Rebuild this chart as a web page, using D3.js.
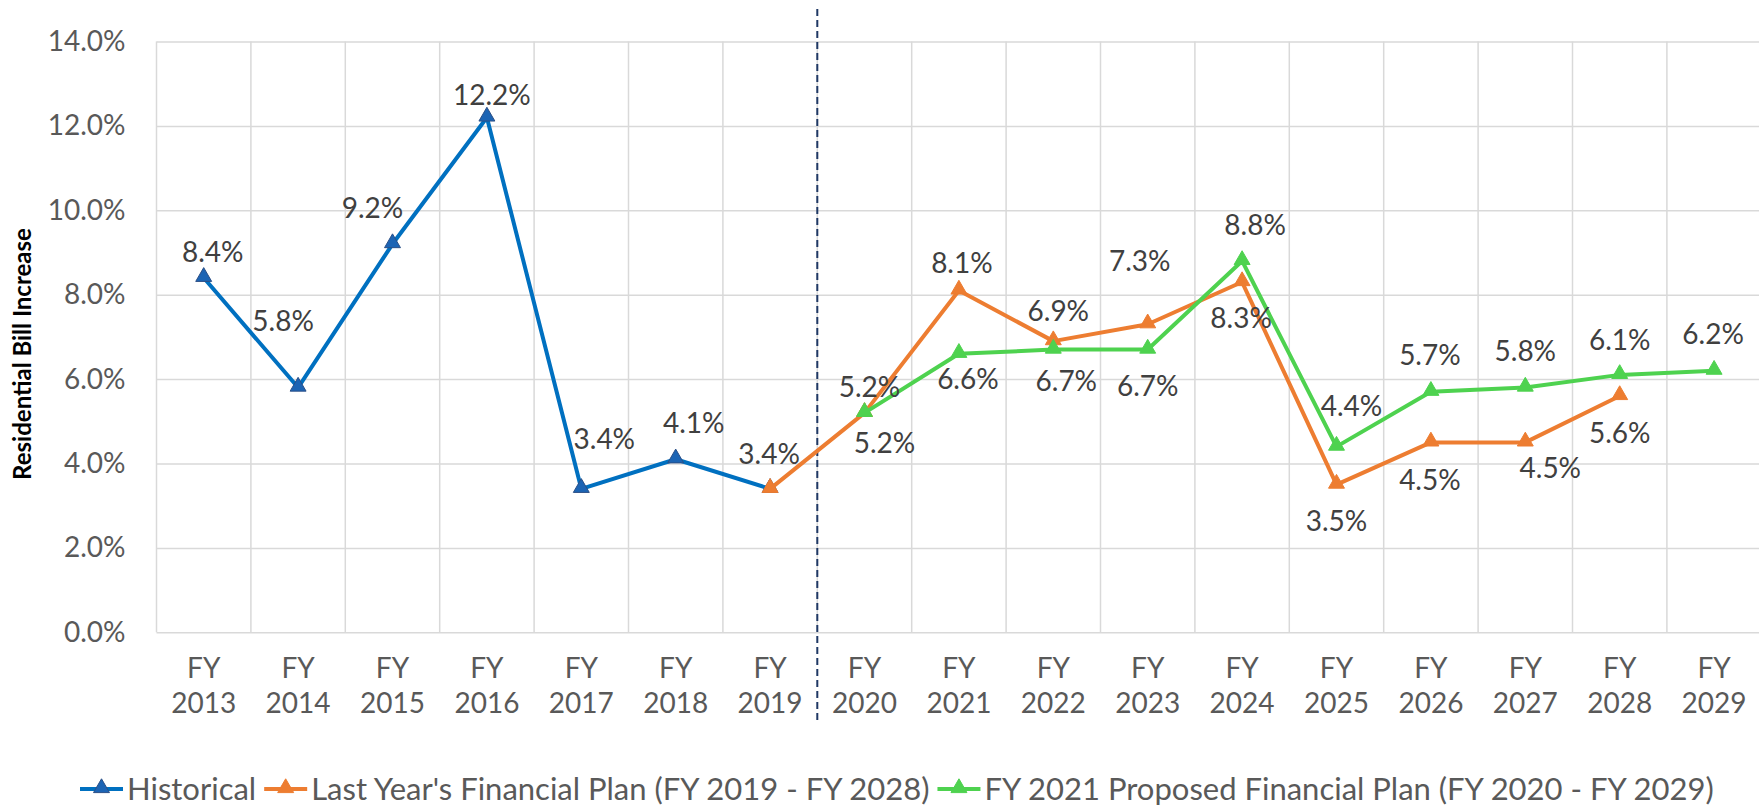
<!DOCTYPE html>
<html>
<head>
<meta charset="utf-8">
<script src="https://cdn.jsdelivr.net/npm/d3@7"></script>
<style>
  body { margin: 0; background: #fff; }
  text { font-family: Lato, "Open Sans", sans-serif; }
</style>
</head>
<body>
<script>
// categories along the x axis
const years = ["FY 2013", "FY 2014", "FY 2015", "FY 2016", "FY 2017", "FY 2018", "FY 2019",
  "FY 2020", "FY 2021", "FY 2022", "FY 2023", "FY 2024", "FY 2025", "FY 2026", "FY 2027",
  "FY 2028", "FY 2029"];

// the three series
const historicalYears = ["FY 2013", "FY 2014", "FY 2015", "FY 2016", "FY 2017", "FY 2018", "FY 2019"];
const historical = [8.4, 5.8, 9.2, 12.2, 3.4, 4.1, 3.4];

const lastYearYears = ["FY 2019", "FY 2020", "FY 2021", "FY 2022", "FY 2023", "FY 2024", "FY 2025",
  "FY 2026", "FY 2027", "FY 2028"];
const lastYear = [3.4, 5.2, 8.1, 6.9, 7.3, 8.3, 3.5, 4.5, 4.5, 5.6];

const proposedYears = ["FY 2020", "FY 2021", "FY 2022", "FY 2023", "FY 2024", "FY 2025", "FY 2026",
  "FY 2027", "FY 2028", "FY 2029"];
const proposed = [5.2, 6.6, 6.7, 6.7, 8.8, 4.4, 5.7, 5.8, 6.1, 6.2];

const yTicks = [0, 2, 4, 6, 8, 10, 12, 14];

const legendNames = ["Historical", "Last Year's Financial Plan (FY 2019 - FY 2028)",
  "FY 2021 Proposed Financial Plan (FY 2020 - FY 2029)"];

// where each data label sits relative to its marker (label layout, not data)
const histNudge = [[9, -26], [-15, -66], [-20, -36], [5, -22], [23, -50], [18, -36], [-1, -35]];
const lastNudge = [null, [20, 30], [3, -27], [5, -30], [-8, -63], [-1, 36], [0, 37], [-1, 38], [25, 26], [0, 37]];
const propNudge = [[5, -26], [9, 25], [13, 32], [0, 37], [13, -36], [15, -40], [-1, -37], [0, -36], [0, -35], [-1, -36]];

const W = 1759, H = 808;
const plotLeft = 156.5, plotTop = 41.5, plotBottom = 632.3;

const svg = d3.select("body").append("svg")
    .attr("width", W)
    .attr("height", H);

const x = d3.scaleBand()
    .domain(years)
    .range([plotLeft, plotLeft + 94.4 * years.length])
    .padding(0);

const y = d3.scaleLinear()
    .domain([0, 14])
    .range([plotBottom, plotTop]);

const plotW = x.range()[1] - plotLeft;

// y gridlines + tick labels
const gy = svg.append("g")
    .attr("transform", `translate(${plotLeft},0)`)
    .call(d3.axisLeft(y).tickValues(yTicks).tickSize(-plotW).tickPadding(31)
      .tickFormat(d => d.toFixed(1) + "%"));
gy.select(".domain").remove();
gy.selectAll(".tick line").attr("stroke", "#d9d9d9").attr("stroke-width", 1.5);
gy.selectAll(".tick text")
    .attr("fill", "#595959")
    .style("font-size", "28px");

// vertical gridlines on the category edges
const edges = years.map(d => x(d)).concat([x.range()[1]]);
svg.append("g").selectAll("line")
    .data(edges)
    .join("line")
    .attr("x1", d => d).attr("x2", d => d)
    .attr("y1", y(0)).attr("y2", y(14))
    .attr("stroke", "#d9d9d9")
    .attr("stroke-width", 1.5);

// x labels, two lines each
const gx = svg.append("g")
    .attr("transform", `translate(0,${plotBottom})`)
    .call(d3.axisBottom(x).tickSize(0).tickPadding(0));
gx.select(".domain").remove();
gx.selectAll(".tick text").each(function(d) {
  const t = d3.select(this).text(null)
      .attr("fill", "#595959")
      .style("font-size", "28px")
      .attr("y", 0).attr("dy", null);
  const parts = d.split(" ");
  t.append("tspan").attr("x", 0).attr("y", 46).text(parts[0]);
  t.append("tspan").attr("x", 0).attr("y", 81).text(parts[1]);
});

// dashed divider between history and plan
svg.append("line")
    .attr("x1", x("FY 2020")).attr("x2", x("FY 2020"))
    .attr("y1", 9).attr("y2", 720)
    .attr("stroke", "#1f3864")
    .attr("stroke-width", 2)
    .attr("stroke-dasharray", "7,4");

// y axis title
svg.append("text")
    .attr("transform", "translate(23,354) rotate(-90)")
    .attr("text-anchor", "middle")
    .attr("dy", "0.35em")
    .style("font-size", "24px")
    .style("font-weight", "700")
    .attr("fill", "#000")
    .text("Residential Bill Increase");

const series = [
  { cats: historicalYears, vals: historical, color: "#0070c0", mark: "#1c64b4", edge: "#2b4f86", nudge: histNudge },
  { cats: lastYearYears, vals: lastYear, color: "#ed7d31", mark: "#ed7d31", edge: "#ed7d31", nudge: lastNudge },
  { cats: proposedYears, vals: proposed, color: "#4ed24f", mark: "#4ed24f", edge: "#4ed24f", nudge: propNudge }
];

const line = d3.line()
    .x(d => x(d[0]) + x.bandwidth() / 2)
    .y(d => y(d[1]));

const tri = d3.symbol(d3.symbolTriangle, 110);

series.forEach(s => {
  const pts = s.cats.map((c, i) => [c, s.vals[i]]);
  svg.append("path")
      .datum(pts)
      .attr("d", line)
      .attr("fill", "none")
      .attr("stroke", s.color)
      .attr("stroke-width", 4)
      .attr("stroke-linejoin", "round");
  svg.append("g").selectAll("path")
      .data(pts)
      .join("path")
      .attr("d", tri)
      .attr("transform", d => `translate(${x(d[0]) + x.bandwidth() / 2},${y(d[1]) - 1})`)
      .attr("fill", s.mark)
      .attr("stroke", s.edge)
      .attr("stroke-width", 1);
});

// data labels
series.forEach(s => {
  s.cats.forEach((c, i) => {
    const n = s.nudge[i];
    if (!n) return;
    svg.append("text")
        .attr("x", x(c) + x.bandwidth() / 2 + n[0])
        .attr("y", y(s.vals[i]) + n[1])
        .attr("dy", "0.35em")
        .attr("text-anchor", "middle")
        .attr("fill", "#404040")
        .style("font-size", "28px")
        .text(s.vals[i].toFixed(1) + "%");
  });
});

// legend
const lg = svg.append("g").attr("transform", "translate(80,789)");
let cx = 0;
series.forEach((s, i) => {
  const g = lg.append("g").attr("transform", `translate(${cx},0)`);
  g.append("line")
      .attr("x1", 0).attr("x2", 43)
      .attr("stroke", s.color)
      .attr("stroke-width", 4);
  g.append("path")
      .attr("d", tri)
      .attr("transform", "translate(21.5,-1)")
      .attr("fill", s.mark)
      .attr("stroke", s.edge);
  const t = g.append("text")
      .attr("x", 47)
      .attr("dy", "0.35em")
      .attr("fill", "#595959")
      .style("font-size", "31px")
      .text(legendNames[i]);
  cx += 47 + t.node().getComputedTextLength() + 8;
});
</script>
</body>
</html>
